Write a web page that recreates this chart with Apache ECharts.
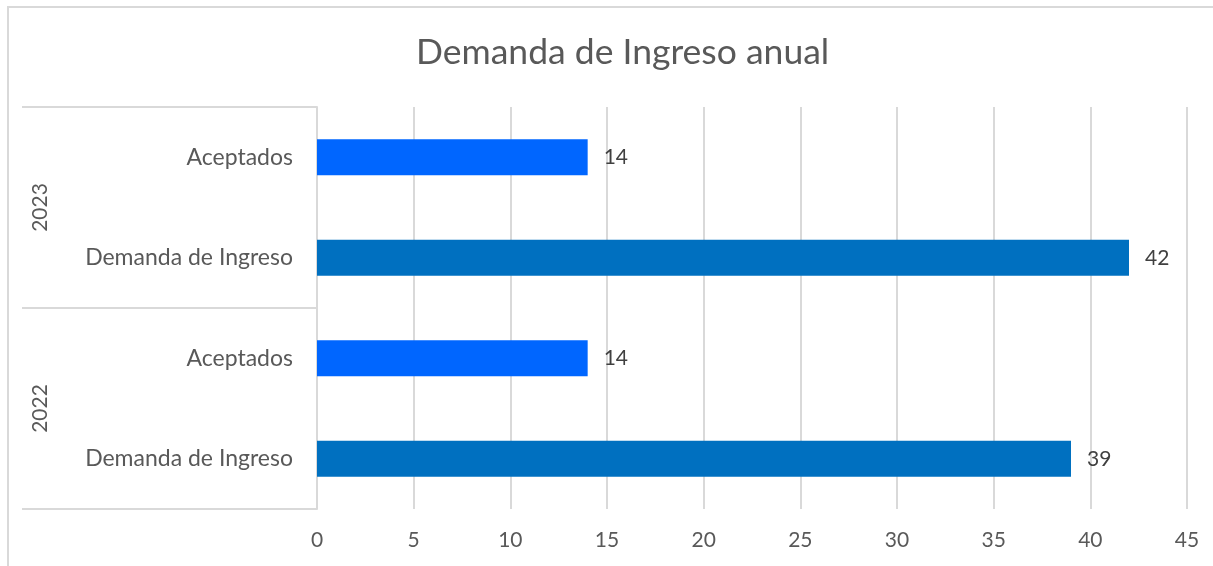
<!DOCTYPE html>
<html>
<head>
<meta charset="utf-8">
<script src="https://cdn.jsdelivr.net/npm/echarts@6/dist/echarts.min.js"></script>
<style>
  html, body { margin: 0; padding: 0; background: #fff; }
  #chart { width: 1213px; height: 566px; }
</style>
</head>
<body>
<div id="chart"></div>
<script>
// datos
var years = ['2022', '2023'];
var groups = ['Demanda de Ingreso', 'Aceptados'];
var demanda = [39, 42];
var aceptados = [14, 14];
var xTicks = [0, 5, 10, 15, 20, 25, 30, 35, 40, 45];

var colores = { 'Demanda de Ingreso': '#0070C0', 'Aceptados': '#0066FF' };

// categorias de abajo hacia arriba
var categorias = [];
var valores = [];
years.forEach(function (y, i) {
    categorias.push(groups[0]);
    valores.push({ value: demanda[i], itemStyle: { color: colores[groups[0]] } });
    categorias.push(groups[1]);
    valores.push({ value: aceptados[i], itemStyle: { color: colores[groups[1]] } });
});

var myChart = echarts.init(document.getElementById('chart'));
myChart.setOption({
    animation: false,
    textStyle: { fontFamily: 'Lato' },
    title: {
        text: 'Demanda de Ingreso anual',
        left: 411,
        top: 30,
        textStyle: { fontFamily: 'Lato', fontSize: 35.5, fontWeight: 'normal', color: '#595959' }
    },
    graphic: [{
        type: 'rect',
        shape: { x: 8, y: 7, width: 1230, height: 600 },
        style: { fill: 'none', stroke: '#d9d9d9', lineWidth: 2 },
        silent: true
    }],
    grid: { left: 317, right: 26, top: 107, bottom: 57 },
    xAxis: {
        type: 'value',
        min: xTicks[0],
        max: xTicks[xTicks.length - 1],
        interval: 5,
        axisLine: { show: false },
        axisTick: { show: false },
        splitLine: { lineStyle: { color: '#d9d9d9', width: 2 } },
        axisLabel: { fontSize: 21, color: '#595959', margin: 21 }
    },
    yAxis: [{
        type: 'category',
        data: categorias,
        axisLine: { lineStyle: { color: '#d9d9d9', width: 2 } },
        axisTick: { show: false },
        axisLabel: { fontSize: 23, color: '#595959', margin: 24 }
    }, {
        type: 'category',
        data: years,
        position: 'left',
        axisLine: { show: false },
        axisTick: { show: true, length: 295, lineStyle: { color: '#d9d9d9', width: 2 } },
        axisLabel: { fontSize: 21, color: '#595959', rotate: 90, margin: 266 }
    }],
    series: [{
        type: 'bar',
        yAxisIndex: 0,
        barWidth: 36,
        data: valores,
        label: {
            show: true,
            position: 'right',
            distance: 16,
            fontSize: 21,
            color: '#404040'
        }
    }]
});
</script>
</body>
</html>
